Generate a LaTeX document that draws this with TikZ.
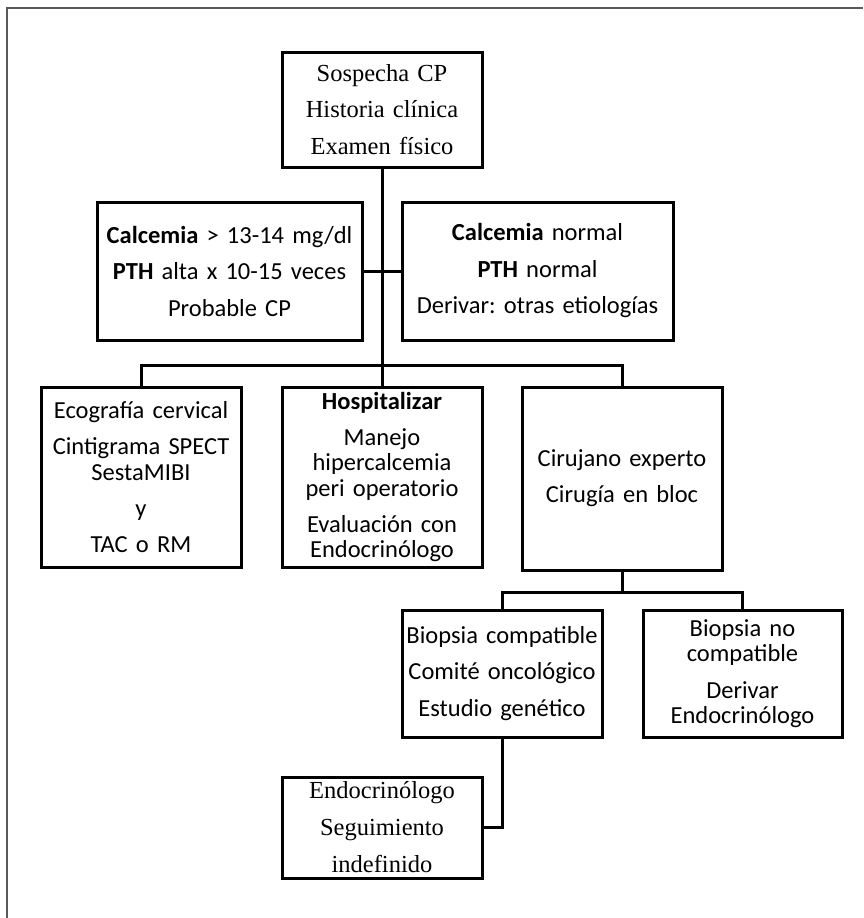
\documentclass[tikz,border=0pt]{standalone}
\usepackage{fontspec}
\setmainfont{Carlito}
\newfontfamily\timesf{Liberation Serif}
\frenchspacing
\begin{document}
\begin{tikzpicture}[x=1pt,y=-1pt,
  box/.style={draw, line width=3pt, rectangle, inner sep=0pt, align=center,
    font=\fontsize{24.5}{25.5}\selectfont},
  serifbox/.style={box, font=\timesf\fontsize{24.5}{25.5}\selectfont},
  conn/.style={line width=3pt},
  frame/.style={draw=black!65, line width=1.5pt}]
\useasboundingbox (0,0) rectangle (863,918);
% outer frame
\draw[frame] (7,918) -- (7,8) -- (863,8);

\node[serifbox, minimum width=200pt, minimum height=115pt, text width=200pt] (top) at (382,109.5)
  {Sospecha CP\\[11pt]Historia clínica\\[11pt]Examen físico};

\node[box, minimum width=265pt, minimum height=138pt, text width=265pt] (cl) at (229.5,271)
  {\textbf{Calcemia} > 13-14 mg/dl\\[11pt]\textbf{PTH} alta x 10-15 veces\\[11pt]Probable CP};
\node[box, minimum width=271pt, minimum height=138pt, text width=271pt] (cr) at (537.5,271)
  {\textbf{Calcemia} normal\\[11pt]\textbf{PTH} normal\\[11pt]Derivar: otras etiologías};

\node[box, minimum width=200pt, minimum height=180pt, text width=200pt] (eco) at (141,477)
  {Ecografía cervical\\[10.5pt]Cintigrama SPECT\\SestaMIBI\\[10.5pt]y\\[10.5pt]TAC o RM};
\node[box, minimum width=200pt, minimum height=180pt, text width=200pt] (hosp) at (382,477)
  {\textbf{Hospitalizar}\\[10.5pt]Manejo\\hipercalcemia\\peri operatorio\\[10.5pt]Evaluación con\\Endocrinólogo};
\node[box, minimum width=200pt, minimum height=183pt, text width=200pt] (ciru) at (622,478.5)
  {Cirujano experto\\[10.5pt]Cirugía en bloc};

\node[box, minimum width=200pt, minimum height=127pt, text width=200pt] (bc) at (502,673.5)
  {Biopsia compatible\\[11pt]Comité oncológico\\[11pt]Estudio genético};
\node[box, minimum width=199pt, minimum height=127pt, text width=199pt] (bn) at (742.5,673.5)
  {Biopsia no\\compatible\\[11pt]Derivar\\Endocrinólogo};

\node[serifbox, minimum width=200pt, minimum height=101pt, text width=200pt] (endo) at (382,827.5)
  {Endocrinólogo\\[11pt]Seguimiento\\[12pt]indefinido};

% connectors
\coordinate (b1) at (382,365);
\coordinate (b2) at (622,592);
\draw[conn] (top.south) -- (hosp.north);
\draw[conn] (cl.east) -- (cr.west);
\draw[conn] (eco.north) |- (b1) -| (ciru.north);
\draw[conn] (ciru.south) -- (b2);
\draw[conn] (bc.north) |- (b2) -| (bn.north);
\draw[conn] (bc.south) |- (endo.east);
\end{tikzpicture}
\end{document}
